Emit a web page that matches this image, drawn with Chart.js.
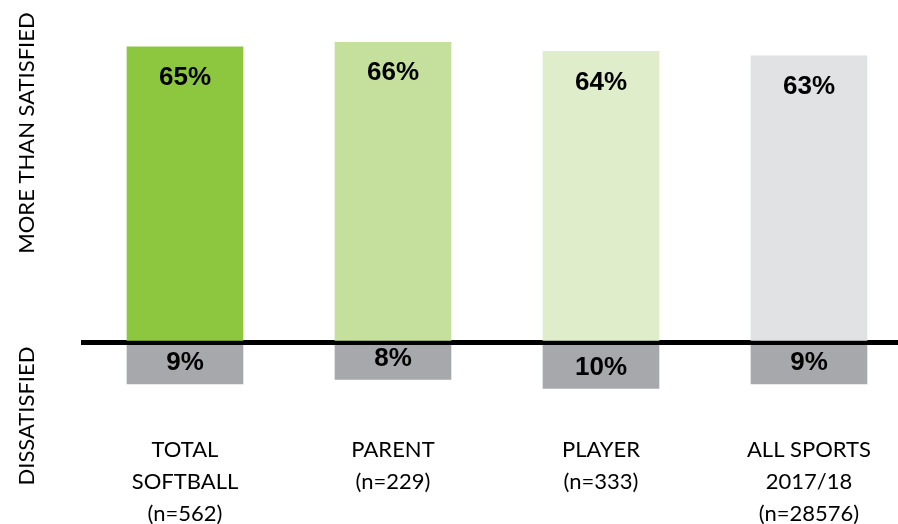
<!DOCTYPE html>
<html>
<head>
<meta charset="utf-8">
<script src="https://cdn.jsdelivr.net/npm/chart.js@4"></script>
<style>
  html, body { margin: 0; padding: 0; background: #fff; }
  #wrap { width: 898px; height: 524px; position: relative; }
</style>
</head>
<body>
<div id="wrap"><canvas id="satChart"></canvas></div>
<script>
// data
const categories = [
    ['TOTAL', 'SOFTBALL', '(n=562)'],
    ['PARENT', '(n=229)'],
    ['PLAYER', '(n=333)'],
    ['ALL SPORTS', '2017/18', '(n=28576)']
];
const moreThanSatisfied = [65, 66, 64, 63];
const dissatisfied = [9, 8, 10, 9];
const barColors = ['#8dc63f', '#c5df9c', '#e0edcb', '#e1e2e4'];

// inside labels for each bar
const valueLabels = {
    id: 'valueLabels',
    afterDatasetsDraw(chart) {
        const ctx = chart.ctx;
        ctx.save();
        ctx.font = 'bold 26px "Liberation Sans", Arial, sans-serif';
        ctx.fillStyle = '#000';
        ctx.textAlign = 'center';
        ctx.textBaseline = 'middle';
        chart.data.datasets.forEach((ds, di) => {
            chart.getDatasetMeta(di).data.forEach((bar, i) => {
                const v = Math.abs(ds.data[i].y);
                const y = di === 0 ? bar.y + 31 : bar.y - 21;
                ctx.fillText(v + '%', bar.x, y);
            });
        });
        ctx.restore();
    }
};

// the two rotated side titles
const sideTitles = {
    id: 'sideTitles',
    afterDraw(chart) {
        const ctx = chart.ctx;
        ctx.save();
        ctx.font = '22px Lato, "Open Sans", sans-serif';
        ctx.fillStyle = '#000';
        ctx.textAlign = 'center';
        ctx.textBaseline = 'middle';
        [['MORE THAN SATISFIED', 133], ['DISSATISFIED', 416]].forEach(([txt, y]) => {
            ctx.save();
            ctx.translate(27, y);
            ctx.rotate(-Math.PI / 2);
            ctx.fillText(txt, 0, 0);
            ctx.restore();
        });
        ctx.restore();
    }
};

new Chart(document.getElementById('satChart'), {
    type: 'bar',
    data: {
        datasets: [{
            label: 'More than satisfied',
            data: moreThanSatisfied.map((v, i) => ({ x: i, y: v })),
            backgroundColor: barColors,
            barThickness: 116
        }, {
            label: 'Dissatisfied',
            data: dissatisfied.map((v, i) => ({ x: i, y: -v })),
            backgroundColor: '#a7a8ab',
            barThickness: 116
        }]
    },
    options: {
        responsive: true,
        maintainAspectRatio: false,
        animation: false,
        layout: { padding: { left: 81, top: 24, right: 0, bottom: 0 } },
        plugins: {
            legend: { display: false },
            tooltip: { enabled: false }
        },
        scales: {
            x: {
                type: 'linear',
                stacked: true,
                offset: false,
                min: -0.5,
                max: 3.428,
                grid: { display: false, drawTicks: false },
                border: { display: false },
                afterBuildTicks: scale => {
                    scale.ticks = categories.map((c, i) => ({ value: i }));
                },
                afterFit: scale => { scale.height = 90; },
                ticks: {
                    padding: 0,
                    maxRotation: 0,
                    autoSkip: false,
                    color: '#000',
                    font: { family: 'Lato, "Open Sans", sans-serif', size: 22, lineHeight: 1.45 },
                    callback: value => categories[value]
                }
            },
            y: {
                stacked: true,
                min: -20,
                max: 70,
                z: 1,
                border: { display: false },
                afterBuildTicks: scale => { scale.ticks = [{ value: 0 }]; },
                afterFit: scale => { scale.width = 0; },
                grid: {
                    color: '#000',
                    lineWidth: 5,
                    drawTicks: false
                },
                ticks: { display: false }
            }
        }
    },
    plugins: [valueLabels, sideTitles]
});
</script>
</body>
</html>
